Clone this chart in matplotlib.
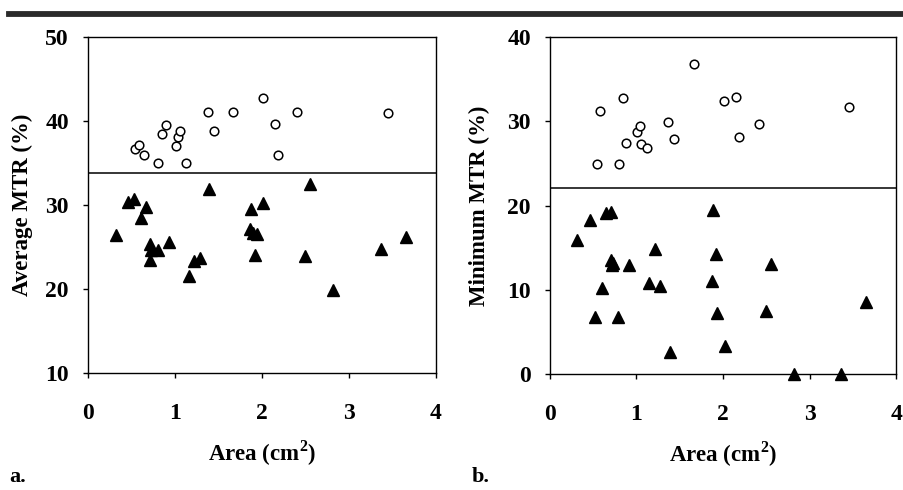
import matplotlib
matplotlib.use("Agg")
import matplotlib.pyplot as plt
from matplotlib.lines import Line2D

plt.rcParams['font.family'] = ['Liberation Serif', 'DejaVu Serif']
plt.rcParams['font.weight'] = 'bold'
plt.rcParams['mathtext.fontset'] = 'custom'
plt.rcParams['mathtext.rm'] = 'Liberation Serif:bold'
plt.rcParams['mathtext.bf'] = 'Liberation Serif:bold'

# panel a: average MTR (%) vs area (cm2)
avg_circ_x = [0.55, 0.59, 0.65, 0.81, 0.85, 0.90, 1.02, 1.04, 1.06, 1.13, 1.38, 1.45,
              1.67, 2.01, 2.15, 2.19, 2.41, 3.45]
avg_circ_y = [36.7, 37.1, 36.0, 35.05, 38.4, 39.5, 37.0, 38.1, 38.8, 35.0, 41.1, 38.8,
              41.1, 42.7, 39.6, 36.0, 41.1, 41.0]
avg_tri_x = [0.33, 0.47, 0.53, 0.61, 0.67, 0.72, 0.73, 0.72, 0.81, 0.93, 1.16, 1.22,
             1.29, 1.40, 1.86, 1.88, 1.90, 1.94, 1.92, 2.02, 2.50, 2.55, 2.82, 3.37, 3.66]
avg_tri_y = [26.4, 30.3, 30.7, 28.5, 29.8, 25.3, 24.7, 23.4, 24.6, 25.6, 21.5, 23.3,
             23.7, 31.9, 27.2, 29.5, 26.7, 26.6, 24.0, 30.2, 23.9, 32.5, 19.9, 24.8, 26.2]
avg_cutoff = 33.8

# panel b: minimum MTR (%) vs area (cm2)
min_circ_x = [0.54, 0.58, 0.80, 0.84, 0.88, 1.01, 1.04, 1.05, 1.12, 1.37, 1.44, 1.67,
              2.01, 2.15, 2.19, 2.41, 3.45]
min_circ_y = [24.9, 31.2, 25.0, 32.75, 27.4, 28.7, 29.5, 27.3, 26.9, 29.9, 27.9, 36.8,
              32.4, 32.9, 28.2, 29.7, 31.7]
min_tri_x = [0.32, 0.46, 0.52, 0.60, 0.65, 0.71, 0.71, 0.72, 0.79, 0.92, 1.15, 1.21,
             1.27, 1.39, 1.87, 1.89, 1.92, 1.93, 2.02, 2.50, 2.55, 2.82, 3.36, 3.65, 0.73]
min_tri_y = [15.9, 18.3, 6.8, 10.2, 19.1, 19.2, 13.5, 13.0, 6.8, 12.9, 10.8, 14.85,
             10.4, 2.65, 11.1, 19.5, 14.3, 7.2, 3.3, 7.5, 13.1, 0.0, 0.0, 8.5, 13.2]
min_cutoff = 22.1

fig = plt.figure(figsize=(9.04, 4.90), dpi=100)

# thick rule across the top
fig.add_artist(Line2D([0.01, 1.0], [0.971, 0.971], color='#2a2a2a', linewidth=4.2,
                      transform=fig.transFigure))


def panel(rect, cx, cy, tx, ty, cutoff, ylim, yticks, ylabel, ylabel_x, letter, letter_x):
    ax = fig.add_axes(rect)
    ax.plot(cx, cy, 'o', markerfacecolor='white', markeredgecolor='black',
            markersize=6.2, markeredgewidth=1.1, linestyle='none', clip_on=False)
    ax.plot(tx, ty, '^', color='black', markersize=8.2, linestyle='none', clip_on=False)
    ax.axhline(cutoff, color='black', linewidth=1.1)
    ax.set_xlim(0, 4)
    ax.set_ylim(*ylim)
    ax.set_xticks([0, 1, 2, 3, 4])
    ax.set_yticks(yticks)
    ax.tick_params(direction='out', length=3.5, width=1.0, labelsize=17)
    ax.tick_params(axis='x', pad=18)
    ax.tick_params(axis='y', pad=10)
    for s in ax.spines.values():
        s.set_linewidth(1.0)
    ax.set_ylabel(ylabel, fontsize=16.5, fontweight='bold')
    ax.yaxis.set_label_coords(ylabel_x, 0.5)
    ax.set_xlabel('Area (cm$^2$)', fontsize=16.5, fontweight='bold')
    ax.xaxis.set_label_coords(0.5, -0.195)
    fig.text(letter_x, 0.016, letter, fontsize=16, fontweight='bold', ha='left', va='baseline')
    return ax


panel([0.0968, 0.2388, 0.3855, 0.6857], avg_circ_x, avg_circ_y, avg_tri_x, avg_tri_y,
      avg_cutoff, (10, 50), [10, 20, 30, 40, 50], 'Average MTR (%)', -0.156, 'a.', 0.010)
panel([0.6081, 0.2367, 0.3834, 0.6872], min_circ_x, min_circ_y, min_tri_x, min_tri_y,
      min_cutoff, (0, 40), [0, 10, 20, 30, 40], 'Minimum MTR (%)', -0.172, 'b.', 0.522)

fig.savefig('out.png', dpi=100)
